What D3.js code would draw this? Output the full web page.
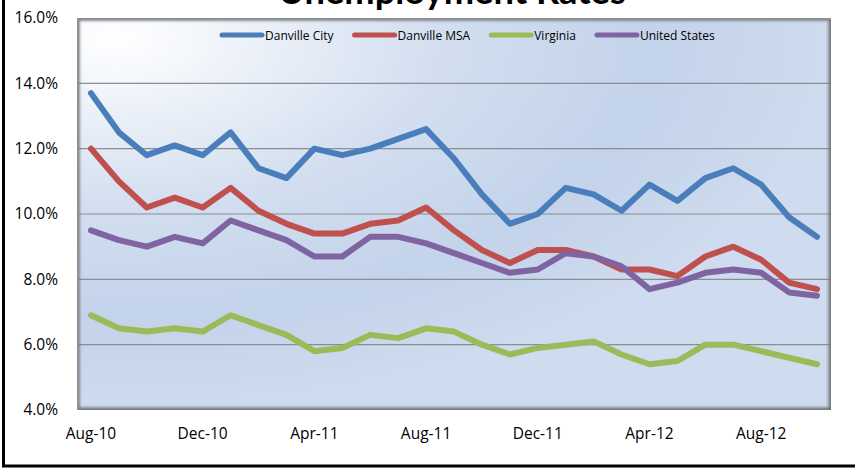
<!DOCTYPE html>
<html>
<head>
<meta charset="utf-8">
<script src="https://cdn.jsdelivr.net/npm/d3@7"></script>
<style>
  body { margin: 0; background: #fff; }
  svg { display: block; font-family: "Open Sans", "Noto Sans", sans-serif; }
</style>
</head>
<body>
<script>
// Unemployment rates, monthly Aug-10 .. Oct-12

var months = ["Aug-10","Sep-10","Oct-10","Nov-10","Dec-10","Jan-11","Feb-11","Mar-11","Apr-11",
  "May-11","Jun-11","Jul-11","Aug-11","Sep-11","Oct-11","Nov-11","Dec-11","Jan-12","Feb-12",
  "Mar-12","Apr-12","May-12","Jun-12","Jul-12","Aug-12","Sep-12","Oct-12"];

var danvilleCity = [13.7,12.5,11.8,12.1,11.8,12.5,11.4,11.1,12.0,11.8,12.0,12.3,12.6,11.7,10.6,9.7,10.0,10.8,10.6,10.1,10.9,10.4,11.1,11.4,10.9,9.9,9.3];
var danvilleMSA = [12.0,11.0,10.2,10.5,10.2,10.8,10.1,9.7,9.4,9.4,9.7,9.8,10.2,9.5,8.9,8.5,8.9,8.9,8.7,8.3,8.3,8.1,8.7,9.0,8.6,7.9,7.7];
var virginia = [6.9,6.5,6.4,6.5,6.4,6.9,6.6,6.3,5.8,5.9,6.3,6.2,6.5,6.4,6.0,5.7,5.9,6.0,6.1,5.7,5.4,5.5,6.0,6.0,5.8,5.6,5.4];
var unitedStates = [9.5,9.2,9.0,9.3,9.1,9.8,9.5,9.2,8.7,8.7,9.3,9.3,9.1,8.8,8.5,8.2,8.3,8.8,8.7,8.4,7.7,7.9,8.2,8.3,8.2,7.6,7.5];

var seriesNames = ["Danville City","Danville MSA","Virginia","United States"];
var yTicks = [4,6,8,10,12,14,16];
var xTickLabels = ["Aug-10","Dec-10","Apr-11","Aug-11","Dec-11","Apr-12","Aug-12"];

var colors = ["#4a7ebb","#c0504d","#9bbb59","#8064a2"];
var seriesData = [danvilleCity, danvilleMSA, virginia, unitedStates];

var svgWidth = 855;
var svgHeight = 468;

var plot = { left: 77, top: 18, right: 831, bottom: 410 };

var svg = d3.select("body")
  .append("svg")
  .attr("width", svgWidth)
  .attr("height", svgHeight);

var defs = svg.append("defs");

var grad = defs.append("radialGradient")
  .attr("id", "bg")
  .attr("cx", 0.05).attr("cy", 0.05).attr("r", 0.95)
  .attr("fx", 0.05).attr("fy", 0.05);
grad.append("stop").attr("offset", "0%").attr("stop-color", "#ffffff");
grad.append("stop").attr("offset", "45%").attr("stop-color", "#d3dff0");
grad.append("stop").attr("offset", "75%").attr("stop-color", "#c3d3ea");
grad.append("stop").attr("offset", "100%").attr("stop-color", "#cfdbee");

defs.append("clipPath").attr("id", "plotClip")
  .append("rect")
  .attr("x", plot.left).attr("y", plot.top)
  .attr("width", plot.right - plot.left)
  .attr("height", plot.bottom - plot.top);

var blur = defs.append("filter").attr("id", "soft")
  .attr("x", "-5%").attr("y", "-5%").attr("width", "110%").attr("height", "110%");
blur.append("feGaussianBlur").attr("stdDeviation", 1.6);

// outer black frame
svg.append("rect")
  .attr("x", 3.5).attr("y", -20)
  .attr("width", 900).attr("height", 486)
  .attr("fill", "none")
  .attr("stroke", "#000")
  .attr("stroke-width", 3);

// title (top is cut off in the original)
var title = svg.append("text")
  .attr("x", 452)
  .attr("y", 4)
  .attr("text-anchor", "middle")
  .style("font-family", "Lato, 'Open Sans', sans-serif")
  .style("font-size", "36px")
  .style("font-weight", "bold")
  .text("Unemployment Rates");
// fit title to the width seen in the original
var titleW = title.node().getComputedTextLength();
title.style("font-size", (36 * 348 / titleW).toFixed(1) + "px");

// plot area
svg.append("rect")
  .attr("x", plot.left).attr("y", plot.top)
  .attr("width", plot.right - plot.left)
  .attr("height", plot.bottom - plot.top)
  .attr("fill", "url(#bg)");

var xScale = d3.scaleBand()
  .domain(months)
  .range([plot.left, plot.right]);

var yScale = d3.scaleLinear()
  .domain([4, 16])
  .range([plot.bottom, plot.top]);

// gridlines
svg.append("g")
  .selectAll("line")
  .data(yTicks.filter(d => d > 4 && d < 16))
  .enter()
  .append("line")
  .attr("x1", plot.left).attr("x2", plot.right)
  .attr("y1", d => yScale(d)).attr("y2", d => yScale(d))
  .attr("stroke", "#8a8d92")
  .attr("stroke-width", 1.2);

// inner shadow of plot frame
var shade = svg.append("g").attr("clip-path", "url(#plotClip)");
shade.append("rect")
  .attr("x", plot.left).attr("y", plot.top)
  .attr("width", plot.right - plot.left)
  .attr("height", plot.bottom - plot.top)
  .attr("fill", "none")
  .attr("stroke", "#6e7277")
  .attr("stroke-width", 5)
  .attr("filter", "url(#soft)");
shade.append("rect")
  .attr("x", plot.left + 1).attr("y", plot.top + 1)
  .attr("width", plot.right - plot.left + 1)
  .attr("height", plot.bottom - plot.top + 1)
  .attr("fill", "none")
  .attr("stroke", "#8d9095")
  .attr("stroke-width", 2);

// axes
var leftAxis = d3.axisLeft(yScale)
  .tickValues(yTicks)
  .tickFormat(d => d.toFixed(1) + "%")
  .tickSize(0)
  .tickPadding(19);

var bottomAxis = d3.axisBottom(xScale)
  .tickValues(xTickLabels)
  .tickSize(0)
  .tickPadding(18);

var yAxisG = svg.append("g")
  .attr("transform", `translate(${plot.left}, 0)`)
  .call(leftAxis);

var xAxisG = svg.append("g")
  .attr("transform", `translate(0, ${plot.bottom})`)
  .call(bottomAxis);

[yAxisG, xAxisG].forEach(function(g) {
  g.select(".domain").remove();
  g.selectAll("text")
    .attr("fill", "#000")
    .style("font-size", "15.5px")
    .style("font-family", "'Open Sans', 'Noto Sans', sans-serif");
});

// lines
var line = d3.line()
  .x((d, i) => xScale(months[i]) + xScale.bandwidth() / 2)
  .y(d => yScale(d));

svg.append("g")
  .selectAll("path")
  .data(seriesData)
  .enter()
  .append("path")
  .attr("d", d => line(d))
  .attr("fill", "none")
  .attr("stroke", (d, i) => colors[i])
  .attr("stroke-width", 6)
  .attr("stroke-linejoin", "round")
  .attr("stroke-linecap", "round");

// legend
var legend = svg.append("g");
var cursor = 222;
seriesNames.forEach(function(name, i) {
  legend.append("line")
    .attr("x1", cursor).attr("x2", cursor + 40)
    .attr("y1", 35).attr("y2", 35)
    .attr("stroke", colors[i])
    .attr("stroke-width", 5)
    .attr("stroke-linecap", "round");
  var t = legend.append("text")
    .attr("x", cursor + 43)
    .attr("y", 39.5)
    .style("font-size", "12px")
    .text(name);
  cursor = cursor + 43 + t.node().getComputedTextLength() + 21;
});
</script>
</body>
</html>
